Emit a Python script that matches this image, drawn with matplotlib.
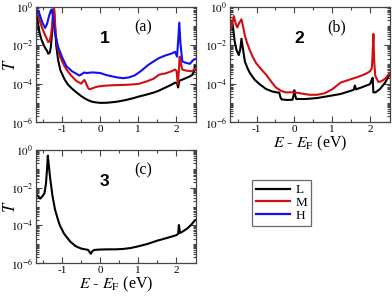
import numpy as np
import matplotlib
matplotlib.use("Agg")
import matplotlib.pyplot as plt
from matplotlib.ticker import LogLocator, FixedLocator, NullFormatter, FuncFormatter
from matplotlib.lines import Line2D

plt.rcParams['font.family'] = ['Liberation Serif', 'DejaVu Serif']
plt.rcParams['mathtext.fontset'] = 'stix'
plt.rcParams['axes.unicode_minus'] = False

# ---------------- data (log10 of transmission T) ----------------
# Panel (a), structure 1
E_a_L = [-1.70, -1.66, -1.60, -1.55, -1.50, -1.45, -1.40, -1.37, -1.33, -1.30, -1.27, -1.24, -1.22,
         -1.20, -1.16, -1.11, -1.05, -0.94, -0.85, -0.75, -0.63, -0.50, -0.40, -0.30, -0.20, -0.10,
         0.00, 0.10, 0.20, 0.30, 0.40, 0.50, 0.60, 0.70, 0.80, 0.90, 1.00, 1.20, 1.40, 1.54, 1.70,
         1.85, 1.97, 2.02, 2.05, 2.08, 2.15, 2.25, 2.35, 2.42, 2.47, 2.50]
logT_a_L = [0.0, -0.6, -1.35, -1.7, -1.95, -2.15, -2.3, -2.45, -2.4, -2.1, -1.4, -0.4, 0.0,
            -0.8, -2.0, -2.77, -3.3, -3.78, -4.05, -4.25, -4.45, -4.65, -4.78, -4.88, -4.95, -4.98,
            -5.0, -5.0, -4.99, -4.97, -4.95, -4.92, -4.88, -4.84, -4.79, -4.74, -4.68, -4.58, -4.47,
            -4.37, -4.22, -4.08, -3.95, -3.98, -4.2, -3.85, -3.8, -3.72, -3.63, -3.55, -3.35, -3.1]

E_a_M = [-1.70, -1.66, -1.60, -1.55, -1.50, -1.45, -1.40, -1.37, -1.33, -1.29, -1.25, -1.22, -1.20,
         -1.17, -1.12, -1.06, -0.98, -0.89, -0.78, -0.63, -0.55, -0.50, -0.46, -0.42, -0.38, -0.33,
         -0.29, -0.24, -0.15, -0.05, 0.06, 0.20, 0.40, 0.60, 0.80, 1.00, 1.20, 1.40, 1.54, 1.62,
         1.70, 1.85, 1.97, 2.01, 2.04, 2.07, 2.09, 2.12, 2.16, 2.25, 2.40, 2.46, 2.50]
logT_a_M = [0.0, -0.3, -0.7, -1.0, -1.25, -1.5, -1.7, -1.84, -1.8, -1.4, -0.6, 0.0, -0.5,
            -1.5, -2.2, -2.6, -2.95, -3.27, -3.55, -3.86, -3.95, -4.0, -3.9, -3.81, -3.95, -4.2,
            -4.29, -4.27, -4.2, -4.15, -4.12, -4.1, -4.08, -4.07, -4.05, -4.02, -3.9, -3.75, -3.55, -3.5,
            -3.48, -3.38, -3.27, -3.35, -4.03, -3.3, -2.6, -2.95, -3.27, -3.32, -3.36, -3.3, -3.2]

E_a_H = [-1.70, -1.67, -1.63, -1.58, -1.52, -1.45, -1.40, -1.35, -1.31, -1.28, -1.25, -1.20, -1.11,
         -1.00, -0.89, -0.75, -0.62, -0.55, -0.48, -0.42, -0.37, -0.20, 0.00, 0.15, 0.30, 0.45,
         0.60, 0.75, 0.90, 1.00, 1.10, 1.25, 1.40, 1.54, 1.70, 1.89, 1.97, 2.02, 2.05, 2.08,
         2.11, 2.16, 2.25, 2.36, 2.45, 2.50]
logT_a_H = [-0.05, -0.32, -0.2, -0.5, -0.85, -1.11, -0.9, -0.5, -0.25, -0.15, -0.45, -1.3, -2.09,
            -2.65, -3.1, -3.35, -3.5, -3.58, -3.5, -3.42, -3.45, -3.42, -3.45, -3.55, -3.62, -3.68,
            -3.72, -3.68, -3.58, -3.45, -3.3, -3.05, -2.85, -2.68, -2.55, -2.43, -2.35, -2.6, -1.8, -0.83,
            -1.9, -2.85, -2.92, -2.97, -2.77, -2.72]

# Panel (b), structure 2
E_b_L = [-1.70, -1.66, -1.63, -1.58, -1.53, -1.47, -1.43, -1.40, -1.36, -1.31, -1.24, -1.18, -1.05,
         -0.92, -0.75, -0.57, -0.45, -0.40, -0.37, -0.34, -0.20, -0.05, -0.02, 0.00, 0.02, 0.05,
         0.30, 0.60, 0.90, 1.22, 1.45, 1.57, 1.60, 1.63, 1.80, 2.00, 2.04, 2.07, 2.09, 2.15,
         2.26, 2.40, 2.52]
logT_b_L = [-0.9, -0.75, -0.95, -1.8, -2.26, -2.52, -2.2, -1.67, -2.2, -2.85, -3.2, -3.44, -3.8,
            -4.03, -4.28, -4.42, -4.46, -4.47, -4.7, -4.82, -4.85, -4.84, -4.6, -4.35, -4.6, -4.8,
            -4.8, -4.75, -4.65, -4.54, -4.4, -4.32, -4.1, -4.3, -4.18, -4.03, -3.85, -3.7, -4.46, -4.45,
            -4.29, -3.95, -3.53]

E_b_M = [-1.70, -1.66, -1.60, -1.55, -1.51, -1.46, -1.40, -1.35, -1.31, -1.25, -1.18, -1.10, -1.01,
         -0.88, -0.75, -0.62, -0.49, -0.35, -0.22, -0.10, 0.00, 0.20, 0.40, 0.60, 0.80, 1.00,
         1.22, 1.45, 1.74, 1.90, 2.00, 2.05, 2.07, 2.09, 2.11, 2.14, 2.22, 2.30, 2.40, 2.52]
logT_b_M = [-0.6, -1.08, -0.49, -0.9, -1.08, -0.85, -0.66, -1.1, -1.5, -1.9, -2.26, -2.62, -2.94,
            -3.25, -3.53, -3.88, -4.2, -4.38, -4.46, -4.45, -4.45, -4.52, -4.58, -4.58, -4.5, -4.3,
            -3.95, -3.8, -3.61, -3.48, -3.36, -3.2, -2.4, -1.42, -2.8, -3.6, -3.91, -3.88, -3.75, -3.45]

# Panel (c), structure 3
E_c_L = [-1.70, -1.64, -1.58, -1.52, -1.47, -1.43, -1.40, -1.38, -1.36, -1.32, -1.26, -1.19, -1.12,
         -1.06, -0.95, -0.79, -0.65, -0.50, -0.40, -0.32, -0.25, -0.20, -0.15, 0.00, 0.20, 0.40,
         0.60, 0.80, 1.00, 1.25, 1.50, 1.75, 2.00, 2.05, 2.07, 2.10, 2.15, 2.30, 2.40, 2.50]
logT_c_L = [-2.33, -2.45, -2.58, -2.45, -2.3, -1.8, -1.0, -0.3, -0.7, -1.48, -2.4, -3.17, -3.65,
            -4.02, -4.45, -4.86, -5.1, -5.23, -5.27, -5.3, -5.5, -5.35, -5.3, -5.28, -5.27, -5.27,
            -5.25, -5.2, -5.11, -4.98, -4.81, -4.67, -4.52, -4.45, -3.98, -4.4, -4.35, -4.15, -3.95, -3.71]

series_labels = ['L', 'M', 'H']
series_colors = ['black', '#d01010', '#1010f0']
panel_tags = ['(a)', '(b)', '(c)']
panel_numbers = ['1', '2', '3']
x_major = [-1, 0, 1, 2]
x_minor = [-1.5, -0.5, 0.5, 1.5]

# ---------------- figure ----------------
fig = plt.figure(figsize=(3.92, 3.00), dpi=100)
ax_a = fig.add_axes([0.091, 0.593, 0.409, 0.385])
ax_b = fig.add_axes([0.587, 0.593, 0.407, 0.385])
ax_c = fig.add_axes([0.091, 0.123, 0.409, 0.377])

lw = 1.5
def tr(v):
    return 10.0 ** np.asarray(v)

ax_a.plot(E_a_L, tr(logT_a_L), color=series_colors[0], lw=lw)
ax_a.plot(E_a_M, tr(logT_a_M), color=series_colors[1], lw=lw)
ax_a.plot(E_a_H, tr(logT_a_H), color=series_colors[2], lw=lw)
ax_b.plot(E_b_L, tr(logT_b_L), color=series_colors[0], lw=lw)
ax_b.plot(E_b_M, tr(logT_b_M), color=series_colors[1], lw=lw)
ax_c.plot(E_c_L, tr(logT_c_L), color=series_colors[0], lw=lw)

def fmt(v, pos):
    e = int(round(np.log10(v)))
    return r'$10^{%d}$' % e

for ax, tag, num in zip([ax_a, ax_b, ax_c], panel_tags, panel_numbers):
    ax.set_yscale('log')
    ax.set_ylim(1e-6, 1)
    ax.set_xlim(-1.7, 2.52)
    ax.xaxis.set_major_locator(FixedLocator(x_major))
    ax.xaxis.set_minor_locator(FixedLocator(x_minor))
    ax.yaxis.set_major_locator(FixedLocator([1e-6, 1e-4, 1e-2, 1e0]))
    ax.yaxis.set_major_formatter(FuncFormatter(fmt))
    ax.yaxis.set_minor_locator(LogLocator(base=10, subs=np.arange(1, 10), numticks=20))
    ax.yaxis.set_minor_formatter(NullFormatter())
    ax.tick_params(which='both', direction='in', top=True, right=True, labelsize=8,
                   color='#444444', width=0.8, pad=2)
    ax.tick_params(which='major', length=4)
    ax.tick_params(which='minor', length=2)
    for s in ax.spines.values():
        s.set_linewidth(0.9)
        s.set_color('#444444')
    ax.text(0.432, 0.72, num, transform=ax.transAxes, fontsize=12.5, fontweight='bold',
            family='Liberation Sans', ha='center', va='center')
    ax.text(0.67, 0.82, tag, transform=ax.transAxes, fontsize=11.5, ha='center', va='center')

for ax in (ax_a, ax_c):
    ax.set_ylabel(r'$T$', fontsize=12, va='center')
    ax.yaxis.set_label_coords(-0.155, 0.5)
ax_b.set_xlabel(r'$E$ - $E_{\mathrm{F}}$ (eV)', fontsize=11.5, labelpad=0)
ax_c.set_xlabel(r'$E$ - $E_{\mathrm{F}}$ (eV)', fontsize=11.5, labelpad=0)

handles = [Line2D([], [], color=c, lw=1.6) for c in series_colors]
leg = fig.legend(handles, series_labels, loc='upper left', bbox_to_anchor=(0.643, 0.40),
                 fontsize=9.5, frameon=True, fancybox=False, handlelength=2.6,
                 labelspacing=0.05, borderpad=0.3, handletextpad=0.4, borderaxespad=0)
leg.get_frame().set_edgecolor('#444444')
leg.get_frame().set_linewidth(0.9)

fig.savefig('out.png', dpi=100)
